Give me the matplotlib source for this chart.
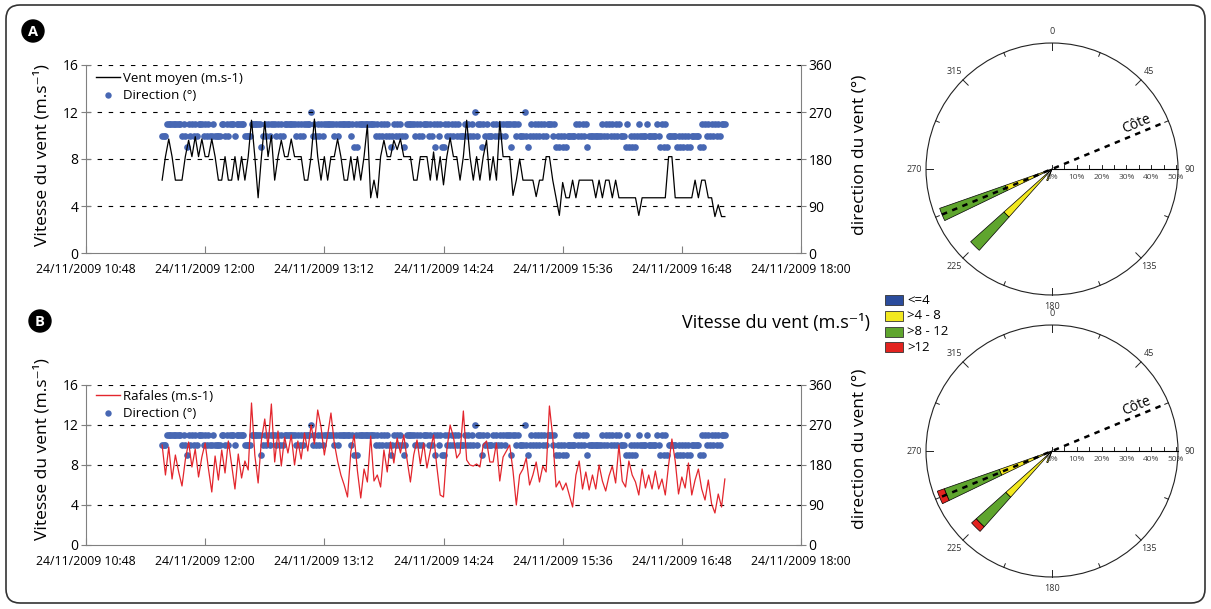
import matplotlib
matplotlib.use("Agg")
import matplotlib.pyplot as plt
import matplotlib.dates as mdates
from matplotlib.patches import FancyBboxPatch, Rectangle, Circle, Wedge
from matplotlib.lines import Line2D
import numpy as np
import pandas as pd

plt.rcParams['font.family'] = ['Open Sans', 'DejaVu Sans']

W, H = 1211, 609

# ---- data ----
t_start = '2009-11-24 11:34'

# speeds: one sample every 2 minutes
vent_moyen = [
    6.2, 8.2, 9.7, 8.2, 6.2, 6.2, 6.2, 8.2, 9.6, 8.2,
    9.9, 8.2, 9.7, 8.2, 8.2, 9.7, 8.2, 6.2, 6.2, 8.2,
    6.2, 6.2, 8.2, 6.2, 8.2, 6.2, 8.2, 11.3, 8.2, 4.7,
    8.2, 11.2, 8.2, 10.0, 6.2, 8.2, 9.6, 8.2, 8.2, 9.7,
    8.2, 8.2, 8.2, 6.2, 6.2, 8.2, 11.4, 8.2, 6.2, 8.2,
    6.2, 8.2, 8.2, 9.7, 8.2, 6.2, 6.2, 8.2, 6.2, 8.2,
    6.2, 8.2, 10.9, 4.7, 6.2, 4.7, 8.2, 9.6, 8.2, 8.2,
    9.6, 8.8, 9.7, 8.2, 8.2, 8.2, 6.2, 6.2, 8.2, 8.2,
    8.2, 6.2, 8.6, 6.2, 8.2,
    5.8, 8.2, 9.8, 8.2, 8.2, 6.2, 8.2, 11.3, 8.2, 6.2,
    8.2, 6.2, 8.2, 9.6, 6.2, 8.2, 6.2, 11.2, 8.2, 8.2,
    8.2, 4.9, 6.2, 8.0, 6.2, 6.2, 6.2, 6.2, 4.8, 6.2,
    6.2, 8.2, 8.2, 6.2, 4.7, 3.2, 6.0, 4.7, 4.7, 6.2,
    4.7, 6.2, 6.2, 6.2, 6.2, 6.2, 4.7, 6.2, 4.7, 6.2,
    6.2, 4.7, 6.2, 4.7, 4.7, 4.7, 4.7, 4.7, 4.7, 3.2,
    4.7, 4.7, 4.7, 4.7, 4.7, 4.7, 4.7, 4.7, 8.2, 8.2,
    4.7, 4.7, 4.7, 4.7, 4.7, 4.7, 6.2, 4.7, 6.2, 6.2,
    4.7, 4.7, 3.1, 4.1, 3.1, 3.1,
]

rafales = [
    10.0, 7.0, 9.8, 6.6, 9.0, 7.3, 5.9, 8.5, 10.3, 7.8,
    9.6, 6.8, 8.8, 10.2, 7.6, 5.3, 8.9, 6.5, 9.5, 7.2,
    10.4, 8.0, 5.6, 9.1, 6.7, 8.4, 7.5, 14.2, 9.0, 6.2,
    10.5, 12.6, 9.8, 14.1, 8.3, 11.4, 7.9, 10.8, 9.2, 11.0,
    8.0, 10.4, 8.6, 11.2, 9.4, 12.0, 10.1, 13.5, 11.8, 9.0,
    11.0, 13.2, 10.2, 8.4, 7.0, 6.0, 4.8, 9.3, 11.0, 7.4,
    4.7, 7.6, 6.3, 10.9, 6.4, 7.0, 5.8, 9.5, 7.3, 10.3,
    8.2, 10.7, 9.2, 11.0, 8.5, 6.3, 9.0, 10.5, 8.1, 10.2,
    7.7, 9.4, 11.0, 7.8, 5.0,
    4.8, 9.5, 12.0, 10.8, 8.7, 9.2, 13.4, 8.5, 8.0, 7.9,
    8.1, 7.8, 10.0, 10.4, 8.3, 8.3, 10.2, 6.4, 8.8, 9.4,
    10.0, 7.4, 4.0, 7.0, 7.6, 8.7, 6.0, 7.0, 8.3, 6.3,
    7.9, 7.3, 13.9, 10.8, 5.8, 6.4, 5.5, 6.2, 5.0, 3.8,
    7.0, 8.4, 5.6, 7.3, 5.5, 7.0, 5.6, 8.0, 6.4, 5.4,
    6.9, 7.9, 6.2, 10.0, 6.4, 5.8, 8.4, 7.0, 6.3, 5.0,
    7.6, 5.7, 7.0, 5.6, 7.4, 5.6, 6.6, 5.0, 8.0, 10.6,
    8.4, 5.1, 6.8, 5.7, 8.2, 5.0, 6.5, 7.6, 5.6, 4.5,
    6.5, 4.1, 3.2, 5.1, 3.8, 6.6,
]

# direction: one sample every minute (degrees)
direction = [
    225, 225, 225, 247.5, 247.5, 247.5, 247.5, 247.5, 247.5, 247.5,
    247.5, 247.5, 225, 247.5, 225, 202.5, 247.5, 225, 247.5, 225,
    247.5, 225, 247.5, 247.5, 247.5, 225, 247.5, 225, 247.5, 225,
    225, 247.5, 225, 225, 225, 225, 247.5, 247.5, 225, 247.5,
    225, 247.5, 247.5, 247.5, 225, 247.5, 247.5, 247.5, 247.5, 247.5,
    225, 225, 225, 225, 247.5, 247.5, 247.5, 247.5, 247.5, 247.5,
    202.5, 225, 247.5, 225, 247.5, 225, 247.5, 247.5, 247.5, 225,
    247.5, 225, 247.5, 225, 247.5, 247.5, 247.5, 247.5, 247.5, 247.5,
    247.5, 225, 247.5, 225, 247.5, 225, 247.5, 247.5, 247.5, 247.5,
    270, 225, 247.5, 225, 247.5, 225, 247.5, 225, 247.5, 247.5,
    247.5, 247.5, 247.5, 247.5, 225, 247.5, 225, 247.5, 247.5, 247.5,
    247.5, 247.5, 247.5, 247.5, 225, 247.5, 202.5, 247.5, 202.5, 247.5,
    247.5, 247.5, 247.5, 247.5, 247.5, 247.5, 247.5, 247.5, 247.5, 225,
    247.5, 225, 247.5, 225, 247.5, 225, 247.5, 225, 202.5, 225,
    247.5, 225, 247.5, 225, 247.5, 225, 202.5, 225, 247.5, 247.5,
    247.5, 247.5, 247.5, 225, 247.5, 225, 247.5, 225, 247.5, 247.5,
    247.5, 225, 247.5, 225, 247.5, 202.5, 247.5, 225, 247.5, 202.5,
    202.5, 247.5, 225, 247.5, 225, 247.5, 225, 247.5, 225, 247.5,
    225, 225, 225, 247.5, 225, 247.5, 225, 247.5, 225, 270,
    225, 247.5, 247.5, 202.5, 247.5, 225, 247.5, 225, 225, 225,
    247.5, 225, 247.5, 225, 247.5, 225, 247.5, 225, 247.5, 247.5,
    247.5, 202.5, 247.5, 247.5, 225, 247.5, 225, 225, 225, 270,
    225, 202.5, 225, 247.5, 225, 247.5, 225, 247.5, 225, 247.5,
    225, 247.5, 225, 247.5, 247.5, 247.5, 225, 247.5, 202.5, 225,
    202.5, 225, 202.5, 225, 202.5, 225, 225, 225, 225, 225,
    247.5, 225, 247.5, 225, 247.5, 225, 247.5, 202.5, 225, 225,
    225, 225, 225, 225, 225, 225, 247.5, 225, 247.5, 225,
    247.5, 225, 247.5, 225, 247.5, 225, 247.5, 225, 225, 225,
    202.5, 247.5, 202.5, 225, 202.5, 225, 202.5, 225, 247.5, 225,
    225, 225, 225, 247.5, 225, 225, 225, 225, 225, 247.5,
    225, 202.5, 247.5, 202.5, 247.5, 202.5, 225, 225, 225, 225,
    225, 202.5, 225, 202.5, 225, 202.5, 225, 202.5, 225, 202.5,
    225, 225, 225, 225, 225, 202.5, 247.5, 202.5, 247.5, 225,
    247.5, 225, 247.5, 225, 247.5, 225, 247.5, 225, 247.5, 247.5,
    247.5,
]

times = pd.date_range(t_start, periods=len(vent_moyen), freq='2min')
dir_times = pd.date_range(t_start, periods=len(direction), freq='1min')
tick_times = pd.date_range('2009-11-24 10:48', '2009-11-24 18:00', freq='72min')
speed_ticks = [0, 4, 8, 12, 16]
dir_ticks = [0, 90, 180, 270, 360]

classes = ['<=4', '>4 - 8', '>8 - 12', '>12']
class_colors = ['#2b4c9c', '#f2e81f', '#5fa52e', '#e2231f']
rose_dirs = [247.5, 225, 202.5]
# percent per speed class (rows) and per direction (columns)
roseA = [[1, 1, 2], [19, 25, 3], [28, 18, 0], [0, 0, 0]]
roseB = [[1, 1, 2], [21.5, 24, 3], [23.5, 16, 0], [3, 2.5, 0]]

DOT = '#4767b3'
GREY = '#808080'


def px_rect(l, t, r, b):
    return [l / W, 1 - b / H, (r - l) / W, (b - t) / H]


fig = plt.figure(figsize=(W / 100, H / 100), dpi=100)

# background layer in pixel coordinates
bg = fig.add_axes([0, 0, 1, 1])
bg.set_xlim(0, W)
bg.set_ylim(H, 0)
bg.axis('off')
bg.add_patch(FancyBboxPatch((6, 5), 1199, 598, boxstyle='round,pad=0,rounding_size=14',
                            fill=False, ec='#333333', lw=1.2))
for lab, (x, y) in zip(['A', 'B'], [(33, 31), (40, 321)]):
    bg.add_patch(Circle((x, y), 11, fc='black', ec='black'))
    bg.text(x, y + 0.5, lab, color='white', fontsize=10.5, fontweight='bold',
            ha='center', va='center')
bg.text(870, 323, 'Vitesse du vent (m.s\u207b\u00b9)', ha='right', va='center', fontsize=13)
for k, (lab, col) in enumerate(zip(classes, class_colors)):
    yc = 300 + 15.8 * k
    bg.add_patch(Rectangle((885, yc - 5), 18, 10, fc=col, ec='#333333', lw=0.6))
    bg.text(907, yc, lab, ha='left', va='center', fontsize=9.5)


def series_panel(top, bottom, values, color, label, ylab_y, leg_y):
    ax = fig.add_axes(px_rect(86, top, 801, bottom))
    ax2 = ax.twinx()
    ax2.plot(dir_times, direction, 'o', ms=4.8, color=DOT, mec='none')
    ax.set_zorder(ax2.get_zorder() + 1)
    ax.patch.set_visible(False)

    for v in speed_ticks[1:]:
        ax.axhline(v, color='black', lw=0.8, ls=(0, (4, 6)), zorder=0)
    ax.plot(times, values, color=color, lw=0.9)

    ax.set_ylim(0, 16)
    ax2.set_ylim(0, 360)
    ax.set_xlim(tick_times[0], tick_times[-1])
    ax.set_yticks(speed_ticks)
    ax2.set_yticks(dir_ticks)
    ax.set_xticks(tick_times)
    ax.xaxis.set_major_formatter(mdates.DateFormatter('%d/%m/%Y %H:%M'))

    for s in ['top', 'right']:
        ax.spines[s].set_visible(False)
    for s in ['top', 'left', 'bottom']:
        ax2.spines[s].set_visible(False)
    for s in ['left', 'bottom']:
        ax.spines[s].set_color(GREY)
    ax2.spines['right'].set_color(GREY)

    ax.tick_params(axis='y', direction='inout', length=7, color=GREY, labelsize=10, pad=2)
    ax2.tick_params(axis='y', direction='inout', length=7, color=GREY, labelsize=10, pad=2)
    ax.tick_params(axis='x', direction='in', length=5, color=GREY, labelsize=8.8, pad=7)

    ax.set_ylabel('Vitesse du vent (m.s\u207b\u00b9)', fontsize=12.5)
    ax.yaxis.set_label_coords(-0.05, ylab_y)
    ax2.set_ylabel('direction du vent (\u00b0)', fontsize=12.5)
    ax2.yaxis.set_label_coords(1.07, ylab_y)

    handles = [Line2D([], [], color=color, lw=1.0),
               Line2D([], [], ls='none', marker='o', ms=4.6, color=DOT, mec='none')]
    ax.legend(handles, [label, 'Direction (\u00b0)'], loc='upper left',
              bbox_to_anchor=(0.014, leg_y), frameon=False, fontsize=9.5,
              handlelength=1.8, handletextpad=0.25, labelspacing=0.35,
              borderpad=0, borderaxespad=0)
    return ax


series_panel(65, 253, vent_moyen, 'black', 'Vent moyen (m.s-1)', 0.52, 0.965)
series_panel(385, 545, rafales, '#e3262d', 'Rafales (m.s-1)', 0.6, 0.97)


def rose(cx, cy, stacks):
    S = 2.48  # pixels per percent
    half = 62
    ax = fig.add_axes(px_rect(cx - half * S, cy - half * S, cx + half * S, cy + half * S))
    ax.set_xlim(-half, half)
    ax.set_ylim(-half, half)
    ax.axis('off')
    R = 50.8
    ax.add_patch(Circle((0, 0), R, fill=False, ec='#222222', lw=0.8))
    for b in np.arange(0, 360, 22.5):
        ln = 3.0 if b % 45 == 0 else 1.6
        s, c = np.sin(np.radians(b)), np.cos(np.radians(b))
        ax.plot([R * s, (R - ln) * s], [R * c, (R - ln) * c], color='#222222', lw=0.7)
    for b in range(0, 360, 45):
        s, c = np.sin(np.radians(b)), np.cos(np.radians(b))
        ax.text(55.5 * s, 55.5 * c, str(b), fontsize=6.5, ha='center', va='center', color='#333333')

    # bars, stacked by speed class
    for j, b in enumerate(rose_dirs):
        r0 = 0
        a = 90 - b
        for k in range(len(classes)):
            v = stacks[k][j]
            if v <= 0:
                continue
            ax.add_patch(Wedge((0, 0), r0 + v, a - 3.2, a + 3.2, width=v,
                               fc=class_colors[k], ec='black', lw=0.5))
            r0 += v

    # radial scale along 90 deg
    ax.plot([0, R], [0, 0], color='black', lw=0.8)
    for p in np.arange(0, 51, 5):
        ax.plot([p, p], [0, 1.8], color='black', lw=0.6)
    for p in range(0, 51, 10):
        ax.text(p, -3.6, f'{p}%', fontsize=6, ha='center', va='center', color='#444444')

    # coast line
    b1, b2 = 247.5, 67.5
    ax.plot([48 * np.sin(np.radians(b1)), 49.6 * np.sin(np.radians(b2))],
            [48 * np.cos(np.radians(b1)), 49.6 * np.cos(np.radians(b2))],
            color='black', lw=1.8, ls=(0, (2.2, 2.2)))
    ax.text(38.5 * np.sin(np.radians(62)), 38.5 * np.cos(np.radians(62)), 'Côte',
            rotation=22.5, fontsize=10, ha='center', va='center', rotation_mode='anchor')


rose(1052, 169, roseA)
rose(1052, 451, roseB)

fig.savefig('out.png', dpi=100, facecolor='white')
